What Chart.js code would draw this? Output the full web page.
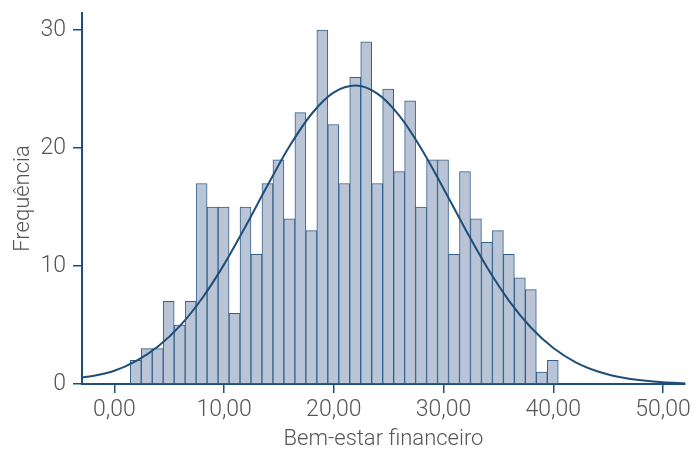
<!DOCTYPE html>
<html>
<head>
<meta charset="utf-8">
<script src="https://cdn.jsdelivr.net/npm/chart.js@4/dist/chart.umd.min.js"></script>
<style>
html,body{margin:0;padding:0;background:#fff;}
#wrap{width:698px;height:451px;position:relative;}
</style>
</head>
<body>
<div id="wrap"><canvas id="c" width="698" height="451"></canvas></div>
<script>
// Histogram bins (centres) and counts
const binCenters = [1.95,2.95,3.95,4.95,5.95,6.95,7.95,8.95,9.95,10.95,11.95,12.95,13.95,14.95,15.95,16.95,17.95,18.95,19.95,20.95,21.95,22.95,23.95,24.95,25.95,26.95,27.95,28.95,29.95,30.95,31.95,32.95,33.95,34.95,35.95,36.95,37.95,38.95,39.95];
const counts = [2,3,3,7,5,7,17,15,15,6,15,11,17,19,14,23,13,30,22,17,26,29,17,25,18,24,15,19,19,11,18,14,12,13,11,9,8,1,2];

// Fitted normal curve
const curveX = [-3,-2,0,2,4,6,8,10,12,14,16,18,20,22,24,26,28,30,32,34,36,38,40,42,44,46,48,50,52];
const curveY = [0.55,0.68,1.12,1.96,3.2,4.95,7.27,10.14,13.44,16.91,20.21,22.93,24.72,25.3,24.59,22.7,19.9,16.56,13.1,9.83,7.01,4.75,3.05,1.86,1.08,0.59,0.31,0.15,0.07];

const xTicks = [0,10,20,30,40,50];
const yTicks = [0,10,20,30];
const xTitle = 'Bem-estar financeiro';
const yTitle = 'Frequência';

const AX = '#1f4e79';
const TXT = '#555555';
const FONT = 'Roboto';

const barData = binCenters.map((x,i)=>({x:x, y:counts[i]}));
const lineData = curveX.map((x,i)=>({x:x, y:curveY[i]}));

new Chart(document.getElementById('c'), {
  type: 'bar',
  data: {
    datasets: [
      {
        type: 'line',
        data: lineData,
        borderColor: AX,
        borderWidth: 2,
        pointRadius: 0,
        fill: false,
        cubicInterpolationMode: 'monotone',
        order: 0
      },
      {
        type: 'bar',
        data: barData,
        backgroundColor: '#b9c5d6',
        borderColor: '#34608a',
        borderWidth: 1,
        barPercentage: 1,
        categoryPercentage: 1,
        order: 1
      }
    ]
  },
  options: {
    responsive: false,
    animation: false,
    events: [],
    layout: { padding: { left: 0, right: 13, top: 13, bottom: 0 } },
    plugins: { legend: { display: false }, tooltip: { enabled: false } },
    scales: {
      x: {
        type: 'linear',
        min: -2.95,
        max: 52.0,
        offset: false,
        afterFit: s => { s.height = 67; s.paddingLeft = 0; s.paddingRight = 0; },
        afterBuildTicks: s => { s.ticks = xTicks.map(v => ({value: v})); },
        ticks: {
          padding: 3,
          color: TXT,
          font: { family: FONT, size: 23, weight: '300' },
          callback: v => v.toFixed(2).replace('.', ',')
        },
        grid: { display: true, offset: false, drawOnChartArea: false, drawTicks: true, tickLength: 9, color: AX, lineWidth: 1.5 },
        border: { display: true, color: AX, width: 2 },
        title: { display: true, text: xTitle, color: TXT, font: { family: FONT, size: 22, weight: '300' }, padding: { top: 0, bottom: -2 } }
      },
      y: {
        type: 'linear',
        min: 0,
        max: 31.45,
        afterFit: s => { s.width = 82; s.paddingTop = 0; s.paddingBottom = 0; },
        afterBuildTicks: s => { s.ticks = yTicks.map(v => ({value: v})); },
        ticks: {
          padding: 7,
          color: TXT,
          font: { family: FONT, size: 23, weight: '300' }
        },
        grid: { display: true, offset: false, drawOnChartArea: false, drawTicks: true, tickLength: 9, color: AX, lineWidth: 1.5 },
        border: { display: true, color: AX, width: 2 },
        title: { display: true, text: yTitle, color: TXT, font: { family: FONT, size: 22, weight: '300' }, padding: { top: 10, bottom: 0 } }
      }
    }
  }
});
</script>
</body>
</html>
